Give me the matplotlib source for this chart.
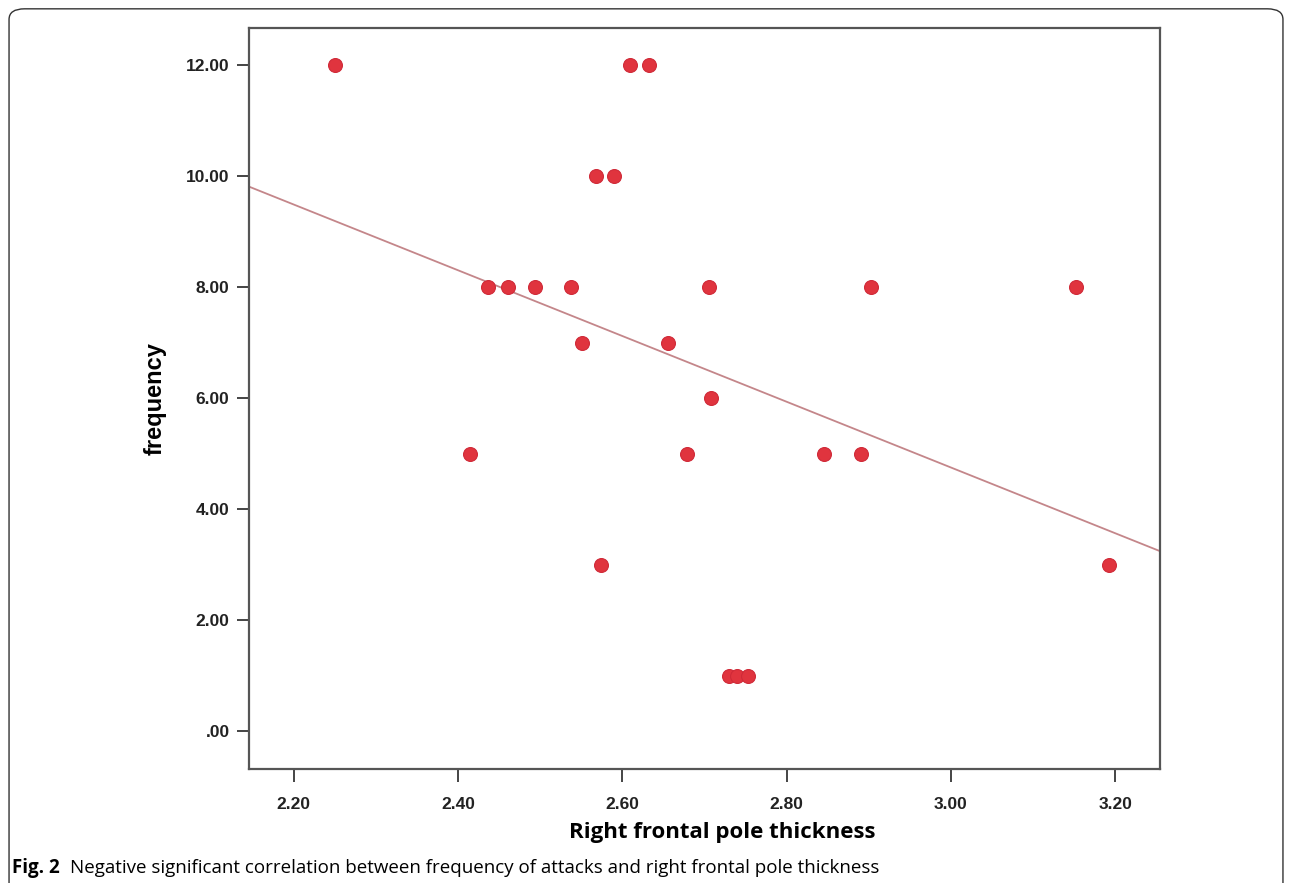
import numpy as np
import matplotlib.pyplot as plt
from matplotlib.patches import FancyBboxPatch

# espesor del polo frontal derecho vs frecuencia de ataques
espesor = [2.250, 2.609, 2.633, 2.568, 2.590, 2.436, 2.461, 2.494, 2.537,
           2.705, 2.903, 3.152, 2.551, 2.656, 2.708, 2.415, 2.679, 2.845,
           2.890, 2.574, 3.193, 2.730, 2.740, 2.753]
frecuencia = [12, 12, 12, 10, 10, 8, 8, 8, 8,
              8, 8, 8, 7, 7, 6, 5, 5, 5,
              5, 3, 3, 1, 1, 1]

xticks = [2.20, 2.40, 2.60, 2.80, 3.00, 3.20]
yticks = [0, 2, 4, 6, 8, 10, 12]

fig = plt.figure(figsize=(12.92, 8.83), dpi=100)
ax = fig.add_axes([0.1927, 0.1291, 0.7051, 0.8392])

# recta de regresion
pend, inter = np.polyfit(espesor, frecuencia, 1)
xl = np.array([2.1455, 3.2545])
ax.plot(xl, pend * xl + inter, color="#c4868a", lw=1.3, zorder=2)

ax.scatter(espesor, frecuencia, s=100, color="#e0343e", edgecolors="#d02a38",
           linewidths=0.8, zorder=3)

ax.set_xlim(2.1455, 3.2545)
ax.set_ylim(-0.68, 12.67)
ax.set_xticks(xticks)
ax.set_xticklabels([f"{v:.2f}" for v in xticks])
ax.set_yticks(yticks)
ax.set_yticklabels([".00" if v == 0 else f"{v:.2f}" for v in yticks])

for lado in ax.spines.values():
    lado.set_color("#555555")
    lado.set_linewidth(1.6)
ax.tick_params(axis="both", direction="out", length=9, width=1.4, color="#444444",
               labelsize=12.5)
ax.tick_params(axis="x", pad=11)
ax.tick_params(axis="y", pad=5)
for t in ax.get_xticklabels() + ax.get_yticklabels():
    t.set_family("Liberation Sans")
    t.set_fontweight("bold")
    t.set_color("#222222")

ax.set_xlabel("Right frontal pole thickness", fontsize=16, fontweight="bold",
              family="Open Sans")
ax.xaxis.set_label_coords(0.519, -0.071)
ax.set_ylabel("frequency", fontsize=17, fontweight="bold", family="Liberation Sans")
ax.yaxis.set_label_coords(-0.090, 0.5)

fig.text(0.0093, 0.011, "Fig. 2", fontsize=13.5, fontweight="bold", family="Open Sans")
fig.text(0.0545, 0.011, "Negative significant correlation between frequency of attacks and right frontal pole thickness",
         fontsize=13.5, family="Open Sans")

# marco redondeado exterior
marco = FancyBboxPatch((0.007, -0.05), 0.986, 1.04, boxstyle="round,pad=0,rounding_size=0.012",
                       transform=fig.transFigure, fill=False, edgecolor="#333333", lw=1.0,
                       clip_on=False)
fig.patches.append(marco)

fig.savefig("out.png", dpi=100)
